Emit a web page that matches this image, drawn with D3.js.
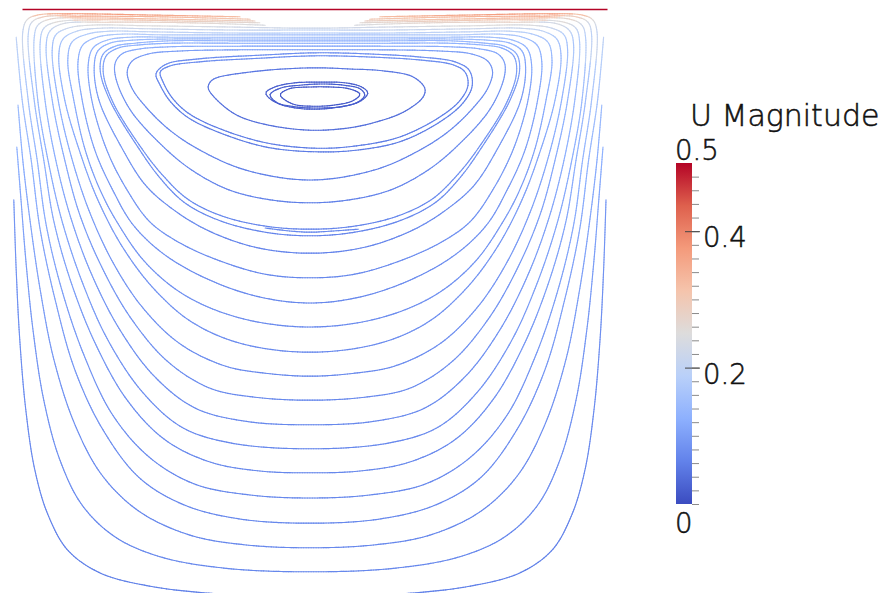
<!DOCTYPE html>
<html>
<head>
<meta charset="utf-8">
<script src="https://cdn.jsdelivr.net/npm/d3@7"></script>
<style>
  body { margin: 0; background: #fff; }
  svg { display: block; }
  text { font-family: "DejaVu Sans", sans-serif; font-weight: 300; fill: #111; stroke: #111; stroke-width: 0.55px; }
</style>
</head>
<body>
<div id="chart"></div>
<script>
// Lid-driven cavity, stream traces coloured by |U|
// every point is [x mm, y mm, |U| m/s]; cavity is 100 x 100 mm, lid at y = 100

const lidX = [1.75, 99.25];

// open traces hugging the walls
const wall1 = [[0.3,68.2,.09],[0.7,56.5,.085],[1.3,44.8,.08],[2.3,33.2,.075],[3.8,23.2,.07],[6.0,15.7,.065],[9.3,9.8,.06],[14.7,6.0,.06],[23.0,3.8,.06],[34.7,2.5,.06],[49.7,2.0,.06],[64.6,2.5,.06],[76.3,3.8,.06],[84.6,6.0,.06],[90.0,9.8,.06],[93.3,15.7,.065],[95.5,23.2,.07],[97.0,33.2,.075],[98.0,44.8,.08],[98.6,56.5,.085],[99.0,68.2,.09]];
const wall2 = [[0.8,77.0,.13],[1.5,68.2,.11],[2.3,58.2,.1],[3.5,46.5,.09],[5.3,34.8,.085],[8.0,24.8,.08],[11.7,17.3,.075],[17.2,12.0,.07],[24.7,8.7,.07],[35.5,6.8,.07],[49.7,6.2,.07],[63.8,6.8,.07],[74.6,8.7,.07],[82.1,12.0,.07],[87.6,17.3,.075],[91.3,24.8,.08],[94.0,34.8,.085],[95.8,46.5,.09],[97.0,58.2,.1],[97.8,68.2,.11],[98.5,77.0,.13]];
const wall3 = [[1.0,84.0,.15],[1.8,74.8,.12],[3.0,64.8,.11],[4.7,53.2,.1],[7.0,41.5,.09],[10.5,30.7,.08],[15.0,22.3,.075],[21.3,16.2,.07],[29.7,12.3,.07],[38.8,10.7,.07],[49.7,10.2,.07],[60.5,10.7,.07],[69.6,12.3,.07],[78.0,16.2,.07],[84.3,22.3,.075],[88.8,30.7,.08],[92.3,41.5,.09],[94.6,53.2,.1],[96.3,64.8,.11],[97.5,74.8,.12],[98.3,84.0,.15]];
const wall4 = [[0.7,95.3,.2],[1.7,84.8,.16],[3.2,74.8,.13],[4.7,63.2,.11],[7.2,51.5,.1],[10.5,39.8,.09],[15.2,29.8,.08],[21.3,21.8,.075],[28.8,17.3,.07],[38.0,15.0,.07],[49.7,14.3,.07],[61.3,15.0,.07],[70.5,17.3,.07],[78.0,21.8,.075],[84.1,29.8,.08],[88.8,39.8,.09],[92.1,51.5,.1],[94.6,63.2,.11],[96.1,74.8,.13],[97.6,84.8,.16],[98.6,95.3,.2]];

// traces that run under the lid but stop short of the middle
const arc5 = [[38.0,98.7,.32],[23.0,99.0,.36],[9.7,99.2,.38],[4.3,99.0,.33],[2.5,98.2,.25],[1.8,96.2,.2],[2.7,84.8,.16],[4.2,74.8,.13],[5.7,64.0,.115],[8.3,53.2,.1],[12.0,42.3,.09],[16.8,32.3,.08],[23.0,25.2,.075],[30.5,20.8,.07],[39.7,19.0,.07],[49.7,18.5,.07],[59.6,19.0,.07],[68.8,20.8,.07],[76.3,25.2,.075],[82.5,32.3,.08],[87.3,42.3,.09],[91.0,53.2,.1],[93.6,64.0,.115],[95.1,74.8,.13],[96.6,84.8,.16],[97.5,96.2,.2],[96.8,98.2,.25],[95.0,99.0,.33],[89.6,99.2,.38],[76.3,99.0,.36],[61.3,98.7,.32]];
const arc6 = [[39.7,98.3,.3],[24.7,98.7,.33],[11.3,98.8,.35],[5.3,98.7,.3],[3.3,97.8,.23],[2.7,95.7,.19],[3.7,84.8,.15],[5.3,74.8,.125],[7.0,64.5,.11],[10.0,54.0,.1],[14.0,44.0,.09],[19.2,34.8,.08],[25.5,28.2,.075],[33.0,24.5,.07],[41.3,23.0,.07],[49.7,22.7,.07],[58.0,23.0,.07],[66.3,24.5,.07],[73.8,28.2,.075],[80.1,34.8,.08],[85.3,44.0,.09],[89.3,54.0,.1],[92.3,64.5,.11],[94.0,74.8,.125],[95.6,84.8,.15],[96.6,95.7,.19],[96.0,97.8,.23],[94.0,98.7,.3],[88.0,98.8,.35],[74.6,98.7,.33],[59.6,98.3,.3]];
const arc7 = [[40.5,98.0,.28],[26.3,98.3,.31],[13.0,98.5,.33],[6.3,98.3,.28],[4.3,97.3,.22],[3.7,95.2,.18],[4.3,84.8,.145],[6.0,74.8,.12],[8.3,64.8,.11],[11.7,54.5,.1],[16.0,44.8,.09],[21.7,36.2,.08],[28.3,30.3,.075],[36.3,27.7,.07],[49.7,26.7,.07],[63.0,27.7,.07],[71.0,30.3,.075],[77.6,36.2,.08],[83.3,44.8,.09],[87.6,54.5,.1],[91.0,64.8,.11],[93.3,74.8,.12],[95.0,84.8,.145],[95.6,95.2,.18],[95.0,97.3,.22],[93.0,98.3,.28],[86.3,98.5,.33],[73.0,98.3,.31],[58.8,98.0,.28]];
const arc8 = [[41.3,97.7,.26],[28.0,98.0,.29],[14.7,98.2,.31],[7.3,97.8,.26],[5.3,96.8,.21],[4.7,94.5,.17],[5.5,84.8,.14],[7.3,74.8,.12],[9.8,65.2,.105],[13.3,55.7,.095],[18.0,46.5,.085],[23.8,38.7,.08],[30.5,33.5,.075],[38.8,31.3,.07],[49.7,30.7,.07],[60.5,31.3,.07],[68.8,33.5,.075],[75.5,38.7,.08],[81.3,46.5,.085],[86.0,55.7,.095],[89.5,65.2,.105],[92.0,74.8,.12],[93.8,84.8,.14],[94.6,94.5,.17],[94.0,96.8,.21],[92.0,97.8,.26],[84.6,98.2,.31],[71.3,98.0,.29],[58.0,97.7,.26]];
const arc9 = [[42.2,97.3,.24],[29.7,97.7,.27],[16.3,97.8,.28],[8.3,97.5,.24],[6.3,96.3,.2],[5.7,94.0,.16],[6.7,84.8,.135],[8.7,75.2,.115],[11.3,65.7,.1],[15.2,56.5,.09],[20.0,48.2,.085],[26.0,41.2,.08],[33.0,36.8,.075],[40.5,35.3,.07],[49.7,34.8,.07],[58.8,35.3,.07],[66.3,36.8,.075],[73.3,41.2,.08],[79.3,48.2,.085],[84.1,56.5,.09],[88.0,65.7,.1],[90.6,75.2,.115],[92.6,84.8,.135],[93.6,94.0,.16],[93.0,96.3,.2],[91.0,97.5,.24],[83.0,97.8,.28],[69.6,97.7,.27],[57.1,97.3,.24]];

// closed loops, outermost first
const loop10 = [[49.7,96.8,.22],[36.3,97.0,.23],[23.0,97.2,.25],[13.0,97.3,.25],[9.3,96.8,.22],[7.3,95.7,.18],[6.7,93.2,.15],[7.7,84.8,.13],[9.8,75.7,.115],[12.8,66.5,.1],[16.8,57.8,.09],[21.8,50.2,.085],[28.0,44.2,.08],[35.5,40.5,.075],[42.2,39.3,.07],[49.7,38.8,.07],[57.1,39.3,.07],[63.8,40.5,.075],[71.3,44.2,.08],[77.5,50.2,.085],[82.5,57.8,.09],[86.5,66.5,.1],[89.5,75.7,.115],[91.6,84.8,.13],[92.6,93.2,.15],[92.0,95.7,.18],[90.0,96.8,.22],[86.3,97.3,.25],[76.3,97.2,.25],[63.0,97.0,.23]];
const loop11 = [[49.7,96.5,.2],[36.3,96.5,.21],[23.0,96.7,.22],[14.7,96.8,.22],[10.8,96.3,.2],[8.5,95.0,.17],[7.8,92.3,.14],[8.8,84.8,.125],[11.2,76.5,.11],[14.3,68.2,.1],[18.5,60.2,.09],[23.8,53.2,.085],[30.0,47.8,.08],[38.0,44.3,.075],[49.7,42.8,.07],[61.3,44.3,.075],[69.3,47.8,.08],[75.5,53.2,.085],[80.8,60.2,.09],[85.0,68.2,.1],[88.1,76.5,.11],[90.5,84.8,.125],[91.5,92.3,.14],[90.8,95.0,.17],[88.5,96.3,.2],[84.6,96.8,.22],[76.3,96.7,.22],[63.0,96.5,.21]];
const loop12 = [[49.7,96.0,.18],[36.3,96.0,.19],[23.0,96.2,.2],[16.3,96.3,.2],[12.5,95.8,.18],[10.0,94.5,.16],[9.3,91.5,.13],[10.3,84.8,.12],[12.2,76.5,.105],[14.7,69.8,.095],[17.5,64.5,.09],[22.2,57.8,.085],[28.8,52.3,.08],[38.0,48.5,.075],[49.7,47.0,.07],[61.3,48.5,.075],[70.5,52.3,.08],[77.1,57.8,.085],[81.8,64.5,.09],[84.6,69.8,.095],[87.1,76.5,.105],[89.0,84.8,.12],[90.0,91.5,.13],[89.3,94.5,.16],[86.8,95.8,.18],[83.0,96.3,.2],[76.3,96.2,.2],[63.0,96.0,.19]];
const loop13 = [[49.7,95.7,.16],[36.3,95.7,.17],[24.7,95.7,.18],[18.0,95.8,.18],[14.2,95.3,.16],[11.8,94.0,.14],[11.0,91.2,.12],[11.7,84.8,.11],[13.8,76.5,.1],[16.8,69.8,.09],[20.2,64.0,.085],[25.5,59.0,.08],[33.0,54.8,.075],[41.3,52.0,.07],[49.7,51.0,.07],[58.0,52.0,.07],[66.3,54.8,.075],[73.8,59.0,.08],[79.1,64.0,.085],[82.5,69.8,.09],[85.5,76.5,.1],[87.6,84.8,.11],[88.3,91.2,.12],[87.5,94.0,.14],[85.1,95.3,.16],[81.3,95.8,.18],[74.6,95.7,.18],[63.0,95.7,.17]];
const loop14 = [[49.7,95.3,.15],[36.3,95.3,.155],[26.3,95.3,.16],[19.7,95.3,.16],[15.8,94.8,.15],[13.5,93.5,.13],[12.7,90.7,.115],[13.3,84.8,.105],[15.8,76.5,.095],[19.2,69.8,.09],[23.0,64.5,.085],[28.0,61.0,.08],[34.7,58.0,.075],[42.2,55.8,.07],[49.7,55.2,.07],[57.1,55.8,.07],[64.6,58.0,.075],[71.3,61.0,.08],[76.3,64.5,.085],[80.1,69.8,.09],[83.5,76.5,.095],[86.0,84.8,.105],[86.6,90.7,.115],[85.8,93.5,.13],[83.5,94.8,.15],[79.6,95.3,.16],[73.0,95.3,.16],[63.0,95.3,.155]];
const loop15 = [[49.7,95.0,.14],[36.3,95.0,.145],[26.3,95.0,.15],[20.0,94.8,.15],[16.3,94.3,.14],[14.3,93.0,.12],[13.7,90.3,.105],[14.5,84.8,.095],[18.5,76.5,.09],[22.2,70.7,.08],[26.3,67.0,.075],[32.2,63.3,.07],[40.5,60.3,.065],[49.7,59.3,.065],[58.8,60.3,.065],[67.1,63.3,.07],[73.0,67.0,.075],[77.1,70.7,.08],[80.8,76.5,.09],[84.8,84.8,.095],[85.6,90.3,.105],[85.0,93.0,.12],[83.0,94.3,.14],[79.3,94.8,.15],[73.0,95.0,.15],[63.0,95.0,.145]];
const cluster1 = [[49.7,94.7,.13],[36.3,94.7,.135],[26.3,94.7,.14],[20.5,94.3,.14],[17.2,93.8,.13],[15.2,92.5,.115],[14.7,89.8,.1],[16.3,84.8,.09],[21.3,76.5,.085],[24.7,71.8,.08],[28.8,67.7,.075],[34.7,64.7,.07],[42.2,62.8,.065],[49.7,62.2,.065],[57.1,62.8,.065],[64.6,64.7,.07],[70.5,67.7,.075],[74.6,71.8,.08],[78.0,76.5,.085],[83.0,84.8,.09],[84.6,89.8,.1],[84.1,92.5,.115],[82.1,93.8,.13],[78.8,94.3,.14],[73.0,94.7,.14],[63.0,94.7,.135]];
const cluster2 = [[49.7,94.3,.12],[36.3,94.3,.125],[26.7,94.3,.13],[21.0,94.0,.13],[17.7,93.5,.12],[15.7,92.2,.11],[15.2,89.5,.1],[16.8,84.5,.09],[21.8,76.5,.085],[25.2,72.2,.08],[29.3,68.3,.075],[35.0,65.5,.07],[42.3,63.8,.065],[49.7,63.3,.065],[57.0,63.8,.065],[64.3,65.5,.07],[70.0,68.3,.075],[74.1,72.2,.08],[77.5,76.5,.085],[82.5,84.5,.09],[84.1,89.5,.1],[83.6,92.2,.11],[81.6,93.5,.12],[78.3,94.0,.13],[72.6,94.3,.13],[63.0,94.3,.125]];
const clusterPiece = [[42.2,63.5,.07],[46.3,63.0,.07],[49.7,62.8,.07],[53.5,63.0,.07],[57.7,63.3,.07]];
const core5 = [[49.7,93.8,.11],[38.0,93.8,.115],[26.3,93.7,.12],[21.0,93.3,.12],[18.3,92.5,.11],[17.2,91.0,.1],[17.3,88.5,.09],[19.7,83.2,.08],[25.8,76.5,.075],[30.5,72.8,.07],[36.3,69.8,.065],[43.0,68.2,.06],[49.7,67.7,.06],[56.3,68.2,.06],[63.0,69.8,.065],[68.8,72.8,.07],[73.5,76.5,.075],[79.6,83.2,.08],[82.0,88.5,.09],[82.1,91.0,.1],[81.0,92.5,.11],[78.3,93.3,.12],[73.0,93.7,.12],[61.3,93.8,.115]];
const core4 = [[49.7,93.2,.1],[38.0,93.2,.1],[28.0,93.0,.1],[22.7,92.5,.1],[20.0,91.3,.09],[19.2,89.5,.085],[20.0,86.8,.08],[22.2,83.8,.075],[26.3,79.8,.07],[31.3,76.5,.065],[38.8,73.2,.06],[49.7,71.5,.06],[60.5,73.2,.06],[68.0,76.5,.065],[73.0,79.8,.07],[77.1,83.8,.075],[79.3,86.8,.08],[80.1,89.5,.085],[79.3,91.3,.09],[76.6,92.5,.1],[71.3,93.0,.1],[61.3,93.2,.1]];
const core3a = [[24.7,89.5,.07],[25.2,87.8,.065],[26.7,85.2,.06],[29.3,82.7,.06],[34.0,80.3,.055],[42.3,77.7,.055],[50.7,76.8,.055],[57.5,77.2,.055],[64.7,78.7,.055],[71.3,82.0,.06],[74.7,84.8,.06],[76.0,87.3,.065],[75.5,89.5,.07],[73.5,90.7,.075],[68.0,91.5,.08],[59.7,92.0,.08],[50.7,92.2,.08],[41.3,91.8,.08],[31.3,91.2,.075],[26.3,90.5,.075]];
const core3b = [[24.0,89.2,.07],[24.7,87.3,.065],[26.3,84.7,.06],[29.2,82.0,.06],[33.8,79.7,.055],[42.3,77.0,.055],[50.7,76.2,.055],[57.7,76.5,.055],[65.0,78.0,.055],[71.8,81.5,.06],[75.3,84.5,.06],[76.7,87.2,.065],[76.2,89.8,.07],[73.8,91.2,.075],[68.0,92.0,.08],[59.7,92.5,.08],[50.7,92.7,.08],[41.3,92.3,.08],[31.3,91.7,.075],[25.7,90.8,.075]];
const core2 = [[33.0,87.8,.05],[34.0,88.5,.05],[39.7,89.5,.05],[45.2,90.0,.05],[50.8,90.2,.05],[56.3,90.0,.05],[61.8,89.7,.05],[66.8,88.7,.05],[68.8,86.8,.045],[68.5,85.3,.045],[65.2,82.8,.04],[60.8,81.2,.04],[56.3,80.2,.04],[49.7,79.8,.04],[42.5,80.7,.04],[37.5,82.3,.04],[34.2,84.8,.045],[32.7,86.8,.045]];
const eye1 = [[42.3,86.0,.02],[43.8,87.0,.02],[47.2,87.7,.02],[51.3,87.8,.02],[55.5,87.7,.02],[58.3,87.0,.02],[59.3,86.0,.02],[58.3,84.8,.02],[55.5,83.8,.02],[51.3,83.5,.02],[47.2,83.7,.02],[43.8,84.5,.02]];
const eye2 = [[43.0,85.7,.02],[44.7,86.8,.02],[48.0,87.3,.02],[51.7,87.5,.02],[55.3,87.3,.02],[58.0,86.7,.02],[58.8,85.7,.02],[57.7,84.5,.02],[54.7,83.7,.02],[51.0,83.3,.02],[47.3,83.5,.02],[44.3,84.3,.02]];
const eye3 = [[44.7,85.7,.015],[46.2,86.7,.015],[49.7,87.0,.015],[53.0,87.0,.015],[56.2,86.7,.015],[58.0,85.8,.015],[56.8,84.7,.015],[53.8,84.0,.015],[50.0,83.8,.015],[46.7,84.2,.015]];

const openTraces = [wall1, wall2, wall3, wall4, arc5, arc6, arc7, arc8, arc9, clusterPiece];
const closedTraces = [loop10, loop11, loop12, loop13, loop14, loop15, cluster1, cluster2, core5, core4, core3a, core3b, core2, eye1, eye2, eye3];

// colour bar
const barTitle = "U Magnitude";
const barRange = [0, 0.5];
const barLabelValues = [0, 0.2, 0.4, 0.5];
const barLabels = ["0", "0.2", "0.4", "0.5"];
const coolWarm = ["#3b4cc0", "#6282ea", "#8db0fe", "#b9d0f9", "#dddcdc", "#f5c4ac", "#f49a7b", "#de604d", "#b40426"];

const width = 894, height = 593;

const x = d3.scaleLinear().domain([0, 100]).range([12, 612]);
const y = d3.scaleLinear().domain([0, 100]).range([609, 9]);

const color = d3.scaleLinear()
    .domain(coolWarm.map((c, i) => barRange[0] + (barRange[1] - barRange[0]) * i / (coolWarm.length - 1)))
    .range(coolWarm)
    .interpolate(d3.interpolateRgb);

const svg = d3.select("#chart")
    .append("svg")
    .attr("width", width)
    .attr("height", height);

// moving lid
svg.append("line")
    .attr("x1", x(lidX[0]))
    .attr("x2", x(lidX[1]))
    .attr("y1", y(100) + 0.5)
    .attr("y2", y(100) + 0.5)
    .attr("stroke", color(barRange[1]))
    .attr("stroke-width", 1.4);

const traceG = svg.append("g")
    .attr("fill", "none")
    .attr("stroke-width", 1.15)
    .attr("stroke-linecap", "round");

// speed at a spot on the curve, blended from the two nearest read points
function speedAt(px, py, pts, closed) {
    let best = 0, bestD = Infinity;
    pts.forEach((p, i) => {
        const d = Math.hypot(p[0] - px, p[1] - py);
        if (d < bestD) { bestD = d; best = i; }
    });
    const n = pts.length;
    let prev = best - 1, next = best + 1;
    if (closed) { prev = (prev + n) % n; next = next % n; }
    const cands = [prev, next].filter(i => i >= 0 && i < n);
    let other = cands[0], otherD = Infinity;
    cands.forEach(i => {
        const d = Math.hypot(pts[i][0] - px, pts[i][1] - py);
        if (d < otherD) { otherD = d; other = i; }
    });
    if (bestD + otherD === 0) return pts[best][2];
    return (pts[best][2] * otherD + pts[other][2] * bestD) / (bestD + otherD);
}

function drawTrace(data, closed) {
    const pts = data.map(d => [x(d[0]), y(d[1]), d[2]]);
    const gen = d3.line()
        .curve(closed ? d3.curveCatmullRomClosed.alpha(0.5) : d3.curveCatmullRom.alpha(0.5));
    const tmp = traceG.append("path").attr("d", gen(pts));
    const node = tmp.node();
    const total = node.getTotalLength();
    const n = Math.max(2, Math.ceil(total / 2.5));
    const samples = d3.range(n + 1).map(i => node.getPointAtLength(total * i / n));
    tmp.remove();
    for (let i = 0; i < n; i++) {
        const a = samples[i], b = samples[i + 1];
        const u = speedAt((a.x + b.x) / 2, (a.y + b.y) / 2, pts, closed);
        traceG.append("line")
            .attr("x1", a.x).attr("y1", a.y)
            .attr("x2", b.x).attr("y2", b.y)
            .attr("stroke", color(u));
    }
}

openTraces.forEach(t => drawTrace(t, false));
closedTraces.forEach(t => drawTrace(t, true));

// colour bar
const bar = { x: 676, w: 16, top: 163, bottom: 504 };
const cb = d3.scaleLinear().domain(barRange).range([bar.bottom, bar.top]);

const grad = svg.append("defs").append("linearGradient")
    .attr("id", "cw")
    .attr("x1", 0).attr("y1", 1)
    .attr("x2", 0).attr("y2", 0);
grad.selectAll("stop")
    .data(coolWarm)
    .enter()
    .append("stop")
    .attr("offset", (d, i) => i / (coolWarm.length - 1))
    .attr("stop-color", d => d);

svg.append("rect")
    .attr("x", bar.x)
    .attr("y", bar.top)
    .attr("width", bar.w)
    .attr("height", bar.bottom - bar.top)
    .attr("fill", "url(#cw)");

// minor ticks on the right edge
const minorAxis = svg.append("g")
    .attr("transform", `translate(${bar.x + bar.w},0)`)
    .call(d3.axisRight(cb).tickValues(cb.ticks(25).filter(v => v < barRange[1] - 1e-6)).tickSize(7).tickFormat(""));
minorAxis.select(".domain").remove();
minorAxis.selectAll(".tick line").attr("stroke", "#8a8a8a");

// labelled ticks cut into the bar
const majorAxis = svg.append("g")
    .attr("transform", `translate(${bar.x + bar.w + 8},0)`)
    .call(d3.axisLeft(cb).tickValues(barLabelValues.filter(v => v > barRange[0] && v < barRange[1])).tickSize(15).tickFormat(""));
majorAxis.select(".domain").remove();
majorAxis.selectAll(".tick line").attr("stroke", "#444");

svg.append("text")
    .attr("x", 690)
    .attr("y", 126)
    .attr("font-size", 30)
    .text(barTitle);

svg.selectAll(".barlabel")
    .data(barLabelValues)
    .enter()
    .append("text")
    .attr("class", "barlabel")
    .attr("font-size", 27.5)
    .attr("x", v => (v === barRange[0] || v === barRange[1]) ? bar.x - 1 : bar.x + 27)
    .attr("y", v => v === barRange[1] ? cb(v) - 3 : v === barRange[0] ? cb(v) + 29 : cb(v) + 16)
    .text((v, i) => barLabels[i]);
</script>
</body>
</html>
